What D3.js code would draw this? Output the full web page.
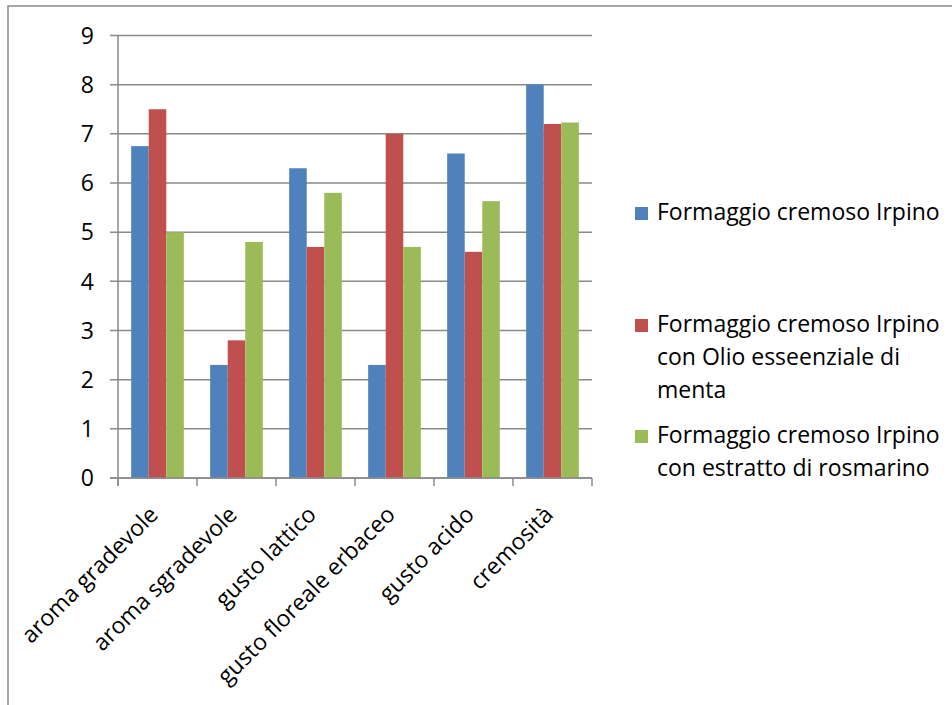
<!DOCTYPE html>
<html>
<head>
<meta charset="utf-8">
<script src="https://cdn.jsdelivr.net/npm/d3@7"></script>
<style>
  body { margin: 0; background: #fff; }
  svg text { font-family: "Open Sans", Lato, sans-serif; fill: #000; }
</style>
</head>
<body>
<div id="chart"></div>
<script>
// categories and series
const categories = ['aroma gradevole', 'aroma sgradevole', 'gusto lattico',
                    'gusto floreale erbaceo', 'gusto acido', 'cremosità'];
const seriesNames = [
  ['Formaggio cremoso Irpino'],
  ['Formaggio cremoso Irpino', 'con Olio esseenziale di', 'menta'],
  ['Formaggio cremoso Irpino', 'con estratto di rosmarino']
];
const irpino    = [6.75, 2.3, 6.3, 2.3, 6.6, 8.0];
const menta     = [7.5, 2.8, 4.7, 7.0, 4.6, 7.2];
const rosmarino = [5.0, 4.8, 5.8, 4.7, 5.63, 7.23];
const yTicks = [0, 1, 2, 3, 4, 5, 6, 7, 8, 9];
const colors = ['#4F81BD', '#C0504D', '#9BBB59'];

const series = [irpino, menta, rosmarino];

const width = 952, height = 705;
const margin = { left: 118, right: 360, top: 35.5, bottom: 227 };
const fontSize = 23;

const svg = d3.select('#chart').append('svg')
  .attr('width', width)
  .attr('height', height);

// chart area frame (only top and left edges fall inside the picture)
svg.append('path')
  .attr('d', `M8,${height} V6 H${width}`)
  .attr('fill', 'none')
  .attr('stroke', '#8a8a8a')
  .attr('stroke-width', 1.5);

const x0 = d3.scaleBand()
  .domain(categories)
  .range([margin.left, width - margin.right])
  .paddingInner(0)
  .paddingOuter(0);

// gap width 150% -> bars take 3 / 4.5 of each band
const x1 = d3.scaleBand()
  .domain(d3.range(series.length))
  .range([0, x0.bandwidth() * 3 / 4.5]);
const groupOffset = x0.bandwidth() * 0.75 / 4.5;

const y = d3.scaleLinear()
  .domain([0, 9])
  .range([height - margin.bottom, margin.top]);

const g = svg.append('g');

// gridlines + y ticks
g.selectAll('line.grid')
  .data(yTicks)
  .join('line')
    .attr('class', 'grid')
    .attr('x1', margin.left - 8)
    .attr('x2', width - margin.right)
    .attr('y1', d => y(d))
    .attr('y2', d => y(d))
    .attr('stroke', '#8a8a8a')
    .attr('stroke-width', 1.5);

g.selectAll('text.ytick')
  .data(yTicks)
  .join('text')
    .attr('class', 'ytick')
    .attr('x', 94)
    .attr('y', d => y(d))
    .attr('dy', '0.36em')
    .attr('text-anchor', 'end')
    .style('font-size', fontSize + 'px')
    .text(d => d);

// bars
series.forEach((vals, si) => {
  g.append('g')
    .selectAll('rect')
    .data(vals)
    .join('rect')
      .attr('x', (d, i) => x0(categories[i]) + groupOffset + x1(si))
      .attr('width', x1.bandwidth())
      .attr('y', d => y(d))
      .attr('height', d => y(0) - y(d))
      .attr('fill', colors[si]);
});

// axes lines
g.append('line')
  .attr('x1', margin.left).attr('x2', margin.left)
  .attr('y1', y(9)).attr('y2', y(0) + 8)
  .attr('stroke', '#8a8a8a').attr('stroke-width', 1.5);

g.append('line')
  .attr('x1', margin.left - 8).attr('x2', width - margin.right)
  .attr('y1', y(0)).attr('y2', y(0))
  .attr('stroke', '#8a8a8a').attr('stroke-width', 1.5);

const xTickPos = categories.map(c => x0(c)).concat([x0.range()[1]]);
g.selectAll('line.xtick')
  .data(xTickPos)
  .join('line')
    .attr('class', 'xtick')
    .attr('x1', d => d).attr('x2', d => d)
    .attr('y1', y(0)).attr('y2', y(0) + 8)
    .attr('stroke', '#8a8a8a').attr('stroke-width', 1.5);

// rotated category labels
g.selectAll('text.xlabel')
  .data(categories)
  .join('text')
    .attr('class', 'xlabel')
    .attr('text-anchor', 'end')
    .attr('transform', d => `translate(${x0(d) + x0.bandwidth() / 2 + 2},${y(0) + 38}) rotate(-45)`)
    .style('font-size', fontSize + 'px')
    .text(d => d);

// legend
const legendY = [220, 332, 443];
const legend = svg.append('g');
seriesNames.forEach((lines, i) => {
  legend.append('rect')
    .attr('x', 635).attr('y', legendY[i] - 13)
    .attr('width', 13).attr('height', 13)
    .attr('fill', colors[i]);
  legend.append('text')
    .attr('x', 657)
    .attr('y', legendY[i])
    .style('font-size', fontSize + 'px')
    .selectAll('tspan')
    .data(lines)
    .join('tspan')
      .attr('x', 657)
      .attr('y', (d, j) => legendY[i] + j * 33)
      .text(d => d);
});
</script>
</body>
</html>
